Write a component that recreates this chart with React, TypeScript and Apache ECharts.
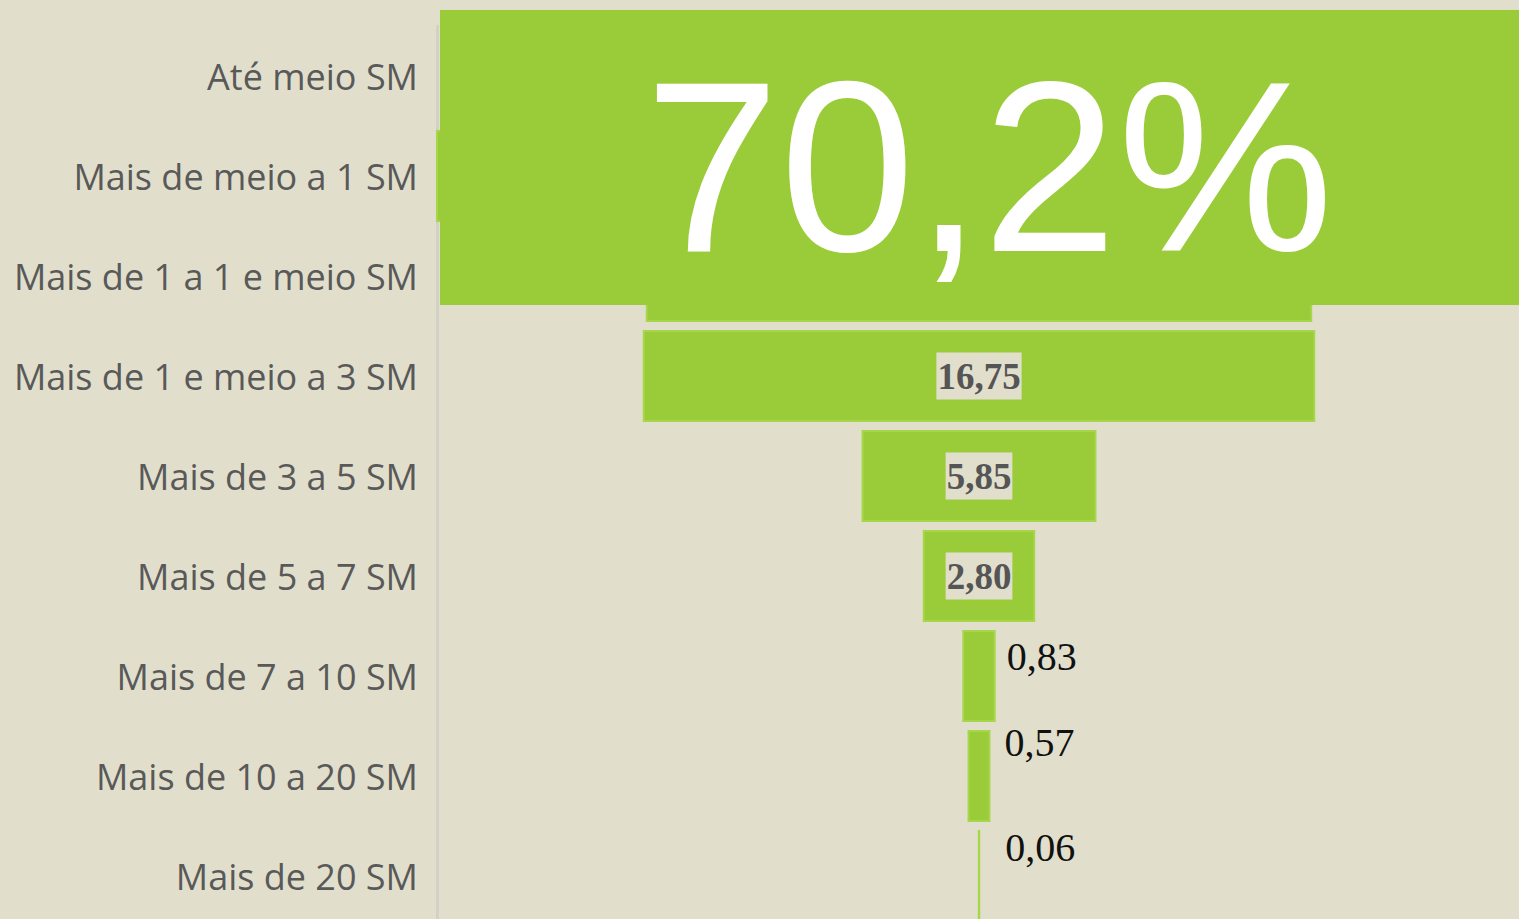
import React, { useEffect, useRef } from "react";
import * as echarts from "echarts";

const categories = [
  "Até meio SM",
  "Mais de meio a 1 SM",
  "Mais de 1 a 1 e meio SM",
  "Mais de 1 e meio a 3 SM",
  "Mais de 3 a 5 SM",
  "Mais de 5 a 7 SM",
  "Mais de 7 a 10 SM",
  "Mais de 10 a 20 SM",
  "Mais de 20 SM",
];
const values = [24.3, 29.3, 16.6, 16.75, 5.85, 2.8, 0.83, 0.57, 0.06];
const highlightText = "70,2%";
const axisMax = 27.0;

const BG = "#e1dfcc";
const GREEN = "#9acb38";

export default function App() {
  const ref = useRef<HTMLDivElement>(null);
  useEffect(() => {
    document.body.style.margin = "0";
    const chart = echarts.init(ref.current!, null, { renderer: "svg" });
    const fmt = (v: number) => v.toFixed(2).replace(".", ",");
    const placeholder = values.map((v) => (axisMax - v) / 2);
    const smallLabel: Record<number, { distance: number; dy: number }> = {
      6: { distance: 11, dy: -20 },
      7: { distance: 14, dy: -34 },
      8: { distance: 25, dy: -29 },
    };
    const visible = values.map((v, i) => {
      if (i < 3) return { value: v, label: { show: false } };
      if (i < 6)
        return {
          value: v,
          label: {
            show: true,
            position: "inside",
            formatter: () => fmt(v),
            fontFamily: "Liberation Serif",
            fontWeight: "bold",
            fontSize: 37,
            color: "#555555",
            backgroundColor: BG,
            padding: [6, 1, 4, 1],
          },
        };
      const s = smallLabel[i];
      return {
        value: v,
        label: {
          show: true,
          position: "right",
          distance: s.distance,
          offset: [0, s.dy],
          formatter: () => fmt(v),
          fontFamily: "Liberation Serif",
          fontSize: 40,
          color: "#111111",
        },
      };
    });
    chart.setOption({
      animation: false,
      backgroundColor: BG,
      grid: {
        left: 437,
        width: 1084,
        top: 26,
        height: 900,
        containLabel: false,
        outerBoundsMode: "none",
      },
      xAxis: {
        type: "value",
        min: 0,
        max: axisMax,
        show: false,
        splitLine: { show: false },
      },
      yAxis: {
        type: "category",
        data: categories,
        inverse: true,
        axisTick: { show: false },
        axisLine: { show: true, lineStyle: { color: "#d3d1c6", width: 3 } },
        axisLabel: {
          fontFamily: "Open Sans",
          fontSize: 36,
          color: "#595959",
          margin: 19,
        },
      },
      series: [
        {
          type: "bar",
          stack: "f",
          stackStrategy: "all",
          data: placeholder,
          itemStyle: { color: "transparent" },
          silent: true,
          barCategoryGap: "8%",
        },
        {
          type: "bar",
          stack: "f",
          stackStrategy: "all",
          data: visible,
          itemStyle: { color: GREEN, borderColor: "#a6d64a", borderWidth: 2 },
          barCategoryGap: "8%",
        },
      ],
      graphic: [
        {
          type: "rect",
          left: 440,
          top: 10,
          shape: { width: 1090, height: 295 },
          style: { fill: GREEN },
          z: 100,
        },
        {
          type: "text",
          x: 989,
          y: 166,
          z: 101,
          style: {
            text: highlightText,
            fill: "#ffffff",
            font: "243px 'Liberation Sans', Arial, sans-serif",
            textAlign: "center",
            textVerticalAlign: "middle",
          },
        },
      ],
    });
    return () => chart.dispose();
  }, []);
  return <div ref={ref} style={{ width: 1519, height: 919 }} />;
}
